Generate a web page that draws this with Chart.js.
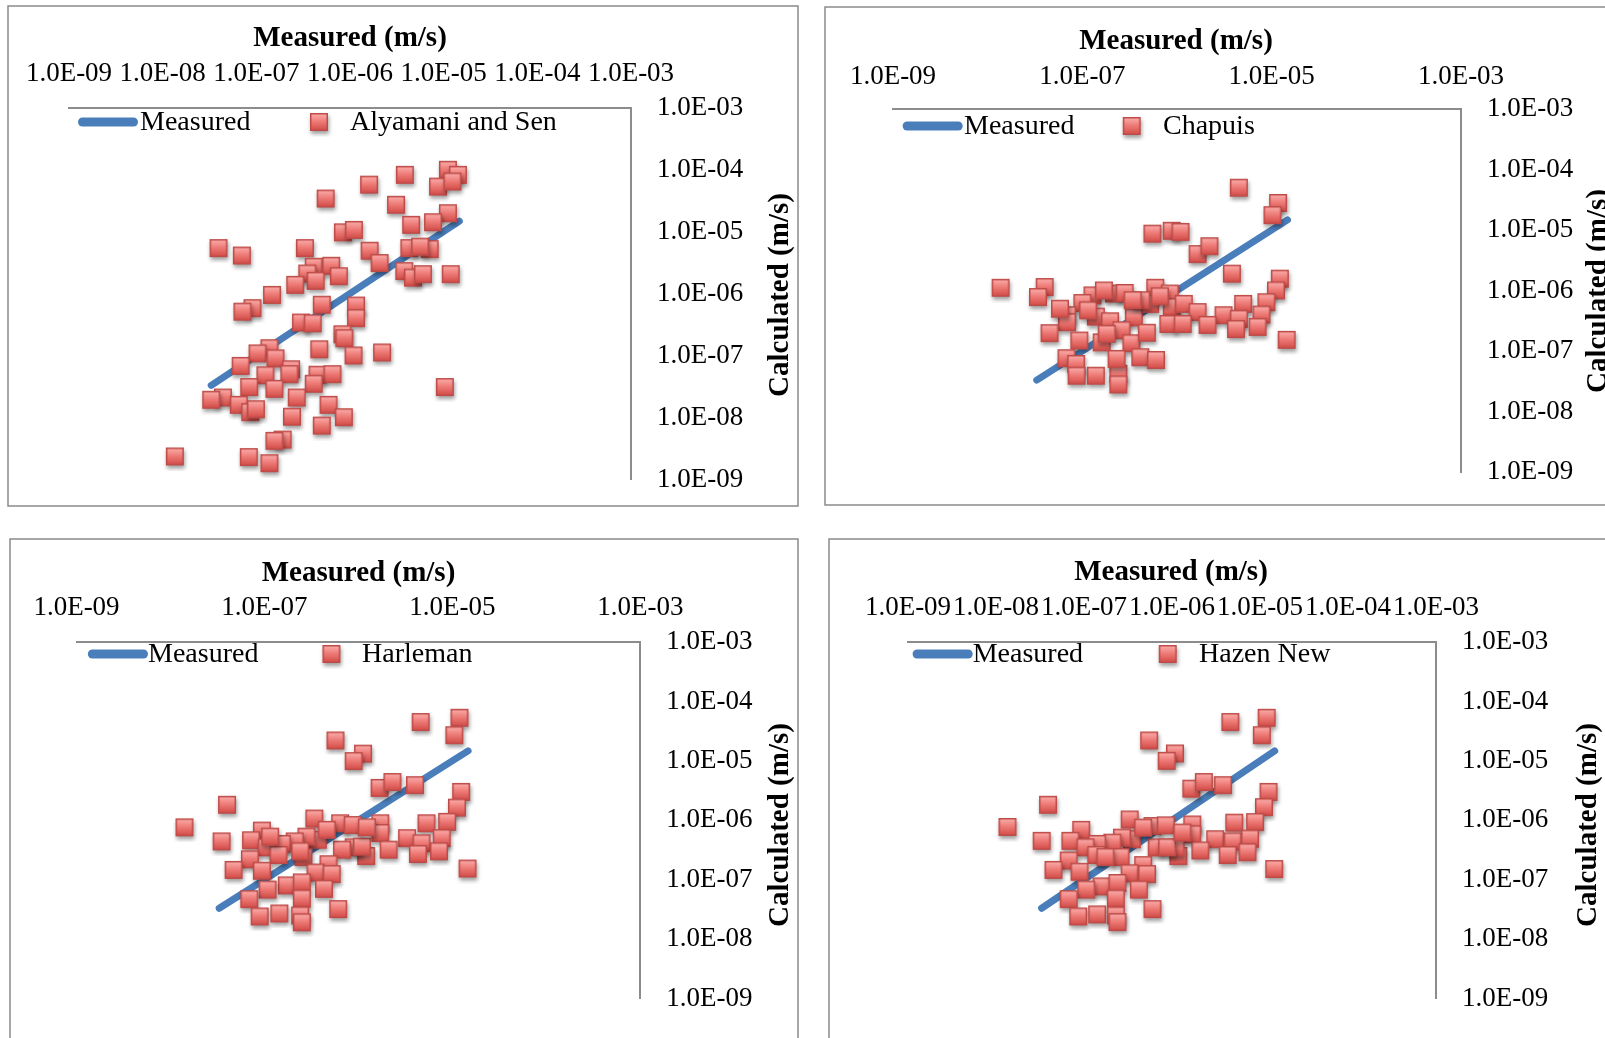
<!DOCTYPE html>
<html>
<head>
<meta charset="utf-8">
<script src="https://cdn.jsdelivr.net/npm/chart.js@4.4.1/dist/chart.umd.min.js"></script>
<style>
html,body{margin:0;padding:0;background:#fff;width:1605px;height:1038px;overflow:hidden;}
canvas{position:absolute;display:block;}
</style>
</head>
<body>
<canvas id="c1" width="802" height="519" style="left:0px;top:0px"></canvas>
<canvas id="c2" width="803" height="519" style="left:802px;top:0px"></canvas>
<canvas id="c3" width="802" height="519" style="left:0px;top:519px"></canvas>
<canvas id="c4" width="803" height="519" style="left:802px;top:519px"></canvas>
<script>
// ---------------- DATA ----------------
const xAxisTitle = 'Measured (m/s)';
const yAxisTitle = 'Calculated (m/s)';
const measuredName = 'Measured';
const methodNames = ['Alyamani and Sen', 'Chapuis', 'Harleman', 'Hazen New'];

const allDecades = [1e-9, 1e-8, 1e-7, 1e-6, 1e-5, 1e-4, 1e-3];
const allDecadeLabels = ['1.0E-09', '1.0E-08', '1.0E-07', '1.0E-06', '1.0E-05', '1.0E-04', '1.0E-03'];
const altDecades = [1e-9, 1e-7, 1e-5, 1e-3];
const altDecadeLabels = ['1.0E-09', '1.0E-07', '1.0E-05', '1.0E-03'];

// 1:1 "Measured" line end points (m/s)
const measuredLine = [3.3e-8, 1.47e-5];

// Alyamani and Sen
const alyamaniMeasured = [3.95e-8,7.0e-8,5.5e-7,1.6e-6,3.85e-6,1.11e-5,1.42e-5,8.7e-6,1.24e-5,3.1e-6,
  1.11e-5,7.7e-6,4.5e-6,8.4e-7,1.1e-6,3.3e-7,1.62e-6,2.07e-6,4.3e-6,7.1e-6,
  5.6e-6,3.8e-6,4.7e-6,6.0e-6,1.19e-5,4.1e-7,3.5e-7,6.3e-7,7.6e-7,4.3e-7,
  2.6e-7,1.47e-7,9.1e-8,7.1e-8,5.0e-7,1.16e-6,1.16e-6,3.0e-7,4.0e-7,8.3e-7,
  8.7e-7,4.7e-7,1.09e-6,2.2e-6,1.38e-7,1.03e-7,1.6e-7,6.8e-8,1.25e-7,2.35e-7,
  2.25e-7,4.5e-7,6.5e-7,4.1e-7,1.56e-7,8.4e-8,4.4e-8,3.3e-8,6.5e-8,8.6e-8,
  9.9e-8,2.7e-7,5.9e-7,2.4e-7,8.6e-7,5.0e-7,1.03e-5,1.91e-7,1.56e-7,1.35e-8,
  8.3e-8,1.38e-7];
const alyamaniCalculated = [5.4e-6,4.1e-6,3.4e-5,5.7e-5,8.2e-5,9.9e-5,8.2e-5,5.3e-5,6.4e-5,2.7e-5,
  1.97e-5,1.41e-5,1.28e-5,9.7e-6,1.06e-5,5.4e-6,4.9e-6,3.1e-6,5.4e-6,5.2e-6,
  5.7e-6,2.3e-6,1.8e-6,2.05e-6,2.05e-6,2.7e-6,2.1e-6,2.8e-6,1.9e-6,1.6e-6,
  1.38e-6,9.5e-7,5.8e-7,5.1e-7,6.6e-7,6.4e-7,4.0e-7,3.4e-7,3.3e-7,2.2e-7,
  1.9e-7,1.26e-7,1.0e-7,1.12e-7,1.31e-7,1.08e-7,9.0e-8,6.8e-8,4.8e-8,6.0e-8,
  5.0e-8,4.9e-8,5.0e-8,3.5e-8,2.9e-8,3.1e-8,2.1e-8,1.93e-8,1.6e-8,1.22e-8,
  1.36e-8,2.1e-8,1.6e-8,1.03e-8,1.01e-8,7.4e-9,3.1e-8,4.4e-9,4.2e-9,2.35e-9,
  2.3e-9,1.83e-9];

// Chapuis
const chapuisMeasured = [4.5e-6,1.17e-5,1.02e-5,5.5e-7,8.8e-7,1.09e-6,1.65e-6,2.2e-6,3.8e-6,1.37e-8,
  4.0e-8,3.4e-8,1.22e-5,1.11e-5,1.28e-7,2.16e-7,2.8e-7,5.9e-7,8.4e-7,1.0e-7,
  6.9e-8,1.39e-7,1.96e-7,6.9e-8,3.5e-7,5.2e-7,8.8e-7,1.18e-6,1.65e-6,4.2e-7,
  5.0e-6,8.8e-6,3.1e-6,4.5e-6,7.8e-6,2.1e-6,4.2e-6,7.1e-6,4.5e-8,9.3e-8,
  1.6e-7,2.6e-7,3.3e-7,4.8e-7,8.1e-7,1.15e-6,1.44e-5,6.8e-8,8.6e-8,8.7e-8,
  1.39e-7,2.4e-7,2.4e-7,4.1e-7,6.0e-7,2.3e-7,1.81e-7,5.8e-8,1.15e-7,1.69e-7,
  3.4e-7,6.6e-7];
const chapuisCalculated = [5.0e-5,2.8e-5,1.76e-5,8.7e-6,9.7e-6,9.3e-6,4.0e-6,5.4e-6,1.9e-6,1.11e-6,
  1.14e-6,7.8e-7,1.57e-6,1.0e-6,8.3e-7,8.9e-7,9.1e-7,1.11e-6,8.9e-7,6.2e-7,
  3.9e-7,3.7e-7,3.1e-7,3.0e-7,3.6e-7,6.0e-7,5.3e-7,6.0e-7,4.4e-7,6.9e-7,
  6.0e-7,6.4e-7,3.9e-7,3.4e-7,4.0e-7,2.7e-7,2.3e-7,2.5e-7,1.97e-7,1.49e-7,
  1.39e-7,2.2e-7,1.34e-7,2.0e-7,2.8e-7,2.8e-7,1.53e-7,7.6e-8,6.1e-8,3.9e-8,
  3.9e-8,4.2e-8,2.8e-8,7.9e-8,7.1e-8,7.4e-8,1.92e-7,5.0e-7,4.7e-7,1.0e-6,
  6.9e-7,8.0e-7];

// Harleman
const harlemanMeasured = [4.6e-6,1.19e-5,1.05e-5,5.7e-7,1.12e-6,8.9e-7,1.68e-6,2.3e-6,4.0e-6,1.24e-5,
  1.12e-5,4.0e-8,1.41e-8,3.5e-8,9.4e-8,7.2e-8,3.4e-7,6.4e-7,8.7e-7,1.71e-6,
  1.71e-6,5.3e-6,8.8e-6,3.3e-6,4.7e-6,7.7e-6,2.1e-6,4.3e-6,7.2e-6,1.21e-6,
  8.9e-7,6.7e-7,3.7e-7,2.8e-7,2.1e-7,1.53e-7,1.06e-7,1.41e-7,2.6e-7,7.0e-8,
  4.7e-8,9.4e-8,4.8e-7,3.5e-7,5.2e-7,1.73e-7,2.5e-7,1.08e-7,6.9e-8,2.5e-7,
  4.3e-7,6.1e-7,8.9e-8,1.44e-7,2.4e-7,2.5e-7,4.6e-7,1.09e-6,1.23e-6,2.4e-7,
  1.15e-7,1.45e-5];
const harlemanCalculated = [4.5e-5,5.3e-5,2.7e-5,2.2e-5,1.32e-5,9.9e-6,3.5e-6,4.4e-6,3.9e-6,3.0e-6,
  1.63e-6,1.82e-6,7.6e-7,4.4e-7,6.7e-7,4.6e-7,1.07e-6,8.9e-7,8.3e-7,8.9e-7,
  6.1e-7,8.9e-7,9.4e-7,5.0e-7,4.1e-7,5.0e-7,3.2e-7,2.7e-7,3.0e-7,2.5e-7,
  3.5e-7,3.2e-7,4.7e-7,5.3e-7,4.4e-7,4.0e-7,3.5e-7,2.6e-7,2.4e-7,2.2e-7,
  1.46e-7,1.41e-7,1.82e-7,1.32e-7,1.24e-7,8.0e-8,9.0e-8,6.8e-8,4.7e-8,4.8e-8,
  7.0e-8,3.2e-8,2.4e-8,2.7e-8,2.5e-8,1.92e-8,6.9e-7,3.6e-7,7.6e-7,3.0e-7,
  5.3e-7,1.54e-7];

// Hazen New
const hazenMeasured = [4.6e-6,1.19e-5,1.05e-5,5.5e-7,1.08e-6,8.7e-7,1.66e-6,2.3e-6,3.8e-6,1.25e-5,
  1.11e-5,3.9e-8,1.35e-8,3.3e-8,9.3e-8,7.0e-8,3.3e-7,6.0e-7,8.5e-7,1.70e-6,
  1.70e-6,5.1e-6,8.8e-6,3.1e-6,4.9e-6,7.7e-6,2.1e-6,4.3e-6,7.2e-6,1.18e-6,
  1.10e-6,6.7e-7,3.5e-7,2.7e-7,2.1e-7,1.41e-7,1.04e-7,1.38e-7,2.6e-7,6.7e-8,
  4.5e-8,8.9e-8,4.7e-7,3.3e-7,5.2e-7,1.58e-7,2.4e-7,1.06e-7,6.7e-8,2.3e-7,
  4.2e-7,6.0e-7,8.6e-8,1.41e-7,2.3e-7,2.4e-7,4.7e-7,8.8e-7,1.31e-6,1.75e-7,
  1.45e-5];
const hazenCalculated = [4.5e-5,5.3e-5,2.7e-5,2.2e-5,1.33e-5,1.0e-5,3.4e-6,4.4e-6,3.9e-6,3.0e-6,
  1.66e-6,1.82e-6,7.7e-7,4.5e-7,6.9e-7,4.5e-7,1.03e-6,8.0e-7,8.2e-7,8.5e-7,
  5.8e-7,9.1e-7,9.3e-7,4.8e-7,4.4e-7,4.9e-7,3.1e-7,2.6e-7,2.9e-7,2.5e-7,
  3.5e-7,3.5e-7,4.8e-7,5.1e-7,4.2e-7,4.0e-7,3.5e-7,2.6e-7,2.4e-7,2.1e-7,
  1.46e-7,1.36e-7,1.76e-7,1.28e-7,1.24e-7,7.7e-8,8.8e-8,6.8e-8,4.7e-8,4.8e-8,
  6.8e-8,3.2e-8,2.4e-8,2.6e-8,2.5e-8,1.93e-8,7.5e-7,3.5e-7,6.2e-7,2.4e-7,
  1.51e-7];

// ---------------- STYLE / LAYOUT ----------------
const FONT = "'Liberation Serif', 'DejaVu Serif', serif";
const LINE_COLOR = '#4A7EBB';
const AXIS_COLOR = '#8C8C8C';

function makeMarker() {
  const c = document.createElement('canvas');
  c.width = 30; c.height = 30;
  const g = c.getContext('2d');
  const s = 18, x0 = 6, y0 = 6;
  g.save();
  g.shadowColor = 'rgba(0,0,0,0.38)';
  g.shadowBlur = 4;
  g.shadowOffsetX = 1;
  g.shadowOffsetY = 3;
  g.fillStyle = '#BE4B48';
  g.fillRect(x0, y0, s, s);
  g.restore();
  const grad = g.createLinearGradient(0, y0 + 1.5, 0, y0 + s - 1.5);
  grad.addColorStop(0, '#F9A8A6');
  grad.addColorStop(0.45, '#EE7C78');
  grad.addColorStop(1, '#D5504C');
  g.fillStyle = grad;
  g.fillRect(x0 + 1.5, y0 + 1.5, s - 3, s - 3);
  return c;
}
const marker = makeMarker();

const panels = [
  { canvas: 'c1', W: 802, H: 519, name: methodNames[0], xs: alyamaniMeasured, ys: alyamaniCalculated,
    xTicks: allDecades, xLabels: allDecadeLabels,
    area: {left: 69, right: 631, top: 107.5, bottom: 481}, xPad: 20,
    frame: [8, 6, 790, 500],
    xTitle: [350, 39], yTitle: [781, 295],
    legend: {lineX1: 78, lineX2: 138, y: 122, text1X: 140, markX: 319, text2X: 350} },
  { canvas: 'c2', W: 803, H: 519, name: methodNames[1], xs: chapuisMeasured, ys: chapuisCalculated,
    xTicks: altDecades, xLabels: altDecadeLabels,
    area: {left: 91, right: 659, top: 109, bottom: 472}, xPad: 19,
    frame: [23, 7, 800, 498],
    xTitle: [374, 42], yTitle: [797, 291],
    legend: {lineX1: 100.6, lineX2: 160.7, y: 126, text1X: 162, markX: 329.7, text2X: 361} },
  { canvas: 'c3', W: 802, H: 519, name: methodNames[2], xs: harlemanMeasured, ys: harlemanCalculated,
    xTicks: altDecades, xLabels: altDecadeLabels,
    area: {left: 76.5, right: 640.3, top: 123, bottom: 486}, xPad: 20.5,
    frame: [10, 20, 788, 520],
    xTitle: [358.5, 54.5], yTitle: [781, 306],
    legend: {lineX1: 87.8, lineX2: 148, y: 135, text1X: 148, markX: 331.4, text2X: 362} },
  { canvas: 'c4', W: 803, H: 519, name: methodNames[3], xs: hazenMeasured, ys: hazenCalculated,
    xTicks: allDecades, xLabels: allDecadeLabels,
    area: {left: 106, right: 634, top: 123, bottom: 487.5}, xPad: 21,
    frame: [27, 20, 800, 520],
    xTitle: [369, 53.5], yTitle: [787, 306],
    legend: {lineX1: 110.6, lineX2: 170.7, y: 135, text1X: 170.7, markX: 365.7, text2X: 397} }
];

function decorPlugin(p) {
  return {
    id: 'decor',
    beforeDraw(chart) {
      const ctx = chart.ctx;
      ctx.save();
      ctx.fillStyle = '#ffffff';
      ctx.fillRect(0, 0, chart.width, chart.height);
      ctx.strokeStyle = '#8A8A8A';
      ctx.lineWidth = 1.5;
      ctx.strokeRect(p.frame[0], p.frame[1], p.frame[2], p.frame[3]);
      ctx.restore();
    },
    afterDraw(chart) {
      const ctx = chart.ctx;
      ctx.save();
      ctx.fillStyle = '#000';
      // x axis title
      ctx.font = 'bold 29px ' + FONT;
      ctx.textAlign = 'center';
      ctx.textBaseline = 'middle';
      ctx.fillText(xAxisTitle, p.xTitle[0], p.xTitle[1]);
      // y axis title (reads bottom to top)
      ctx.save();
      ctx.translate(p.yTitle[0], p.yTitle[1]);
      ctx.rotate(-Math.PI / 2);
      ctx.fillText(yAxisTitle, 0, 0);
      ctx.restore();
      // legend
      const L = p.legend;
      ctx.strokeStyle = LINE_COLOR;
      ctx.lineWidth = 9;
      ctx.lineCap = 'round';
      ctx.beginPath();
      ctx.moveTo(L.lineX1 + 4.5, L.y);
      ctx.lineTo(L.lineX2 - 4.5, L.y);
      ctx.stroke();
      ctx.font = '28px ' + FONT;
      ctx.textAlign = 'left';
      ctx.textBaseline = 'middle';
      ctx.fillText(measuredName, L.text1X, L.y + 1);
      ctx.drawImage(marker, L.markX - marker.width / 2, L.y - marker.height / 2);
      ctx.fillText(p.name, L.text2X, L.y + 1);
      ctx.restore();
    }
  };
}

panels.forEach(p => {
  const pts = p.xs.map((x, i) => ({x: x, y: p.ys[i]}));
  const linePts = measuredLine.map(v => ({x: v, y: v}));
  new Chart(document.getElementById(p.canvas), {
    type: 'scatter',
    data: {
      datasets: [
        { label: p.name, data: pts, order: 0,
          pointStyle: marker, pointRadius: 9, showLine: false },
        { label: measuredName, data: linePts, order: 1, showLine: true,
          borderColor: LINE_COLOR, borderWidth: 7, borderCapStyle: 'round',
          pointRadius: 0, fill: false }
      ]
    },
    options: {
      responsive: false, animation: false, devicePixelRatio: 1, events: [],
      layout: { padding: { left: p.area.left, top: 0, right: 0, bottom: p.H - p.area.bottom } },
      plugins: { legend: { display: false }, tooltip: { enabled: false }, title: { display: false } },
      scales: {
        x: {
          type: 'logarithmic', position: 'top', min: 1e-9, max: 1e-3,
          afterBuildTicks: s => { s.ticks = p.xTicks.map(v => ({value: v})); },
          afterFit: s => { s.height = p.area.top; },
          grid: { display: false, drawTicks: false },
          border: { display: true, color: AXIS_COLOR, width: 2 },
          ticks: { autoSkip: false, maxRotation: 0, minRotation: 0, padding: p.xPad, color: '#000',
                   font: { family: FONT, size: 27, lineHeight: 1 },
                   callback: (v, i) => p.xLabels[i] }
        },
        y: {
          type: 'logarithmic', position: 'right', min: 1e-9, max: 1e-3,
          afterBuildTicks: s => { s.ticks = allDecades.map(v => ({value: v})); },
          afterFit: s => { s.width = p.W - p.area.right; },
          grid: { display: false, drawTicks: false },
          border: { display: true, color: AXIS_COLOR, width: 2 },
          ticks: { autoSkip: false, padding: 26, color: '#000',
                   font: { family: FONT, size: 27, lineHeight: 1 },
                   callback: (v, i) => allDecadeLabels[i] }
        }
      }
    },
    plugins: [decorPlugin(p)]
  });
});
</script>
</body>
</html>
